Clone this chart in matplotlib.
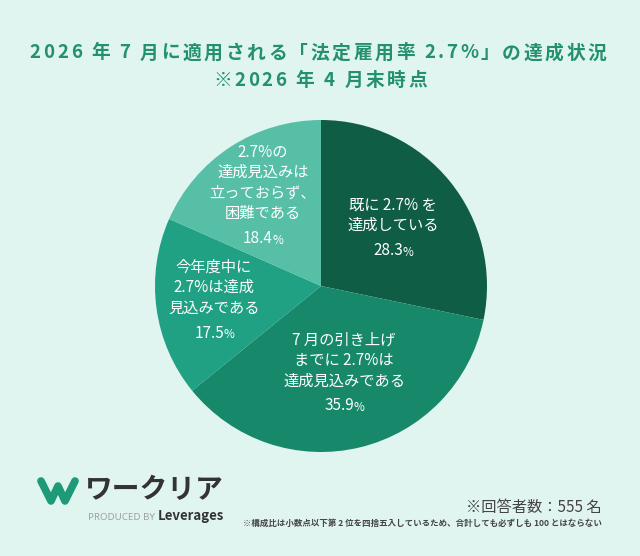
import matplotlib
matplotlib.use("Agg")
import matplotlib.pyplot as plt

plt.rcParams['font.family'] = ['Noto Sans CJK JP', 'DejaVu Sans']

# ---- data ----
categories = [
    "既に 2.7% を\n達成している",
    "7 月の引き上げ\nまでに 2.7%は\n達成見込みである",
    "今年度中に\n2.7%は達成\n見込みである",
    "2.7%の\n達成見込みは\n立っておらず、\n困難である",
]
values = [28.3, 35.9, 17.5, 18.4]
colors = ["#0e5d44", "#17896a", "#20a183", "#57bfa6"]
title_lines = ["2026 年 7 月に適用される「法定雇用率 2.7%」の達成状況", "※2026 年 4 月末時点"]
respondents = "※回答者数：555 名"
note = "※構成比は小数点以下第 2 位を四捨五入しているため、合計しても必ずしも 100 とはならない"

W, H = 640, 556
bg = "#e1f5f0"
fig = plt.figure(figsize=(W / 100, H / 100), dpi=100, facecolor=bg)
ax = fig.add_axes([0, 0, 1, 1])
ax.set_facecolor(bg)

def Y(ypix):
    return H - ypix

# pie
cx, cy, r = 321, 286, 166
ax.pie(values, colors=colors, startangle=90, counterclock=False,
       center=(cx, Y(cy)), radius=r, frame=True,
       wedgeprops=dict(linewidth=0))
ax.set_xlim(0, W)
ax.set_ylim(0, H)
ax.set_aspect('equal')
ax.axis('off')

renderer = fig.canvas.get_renderer()

def adv(ch, **kw):
    t1 = ax.text(0, 0, "x" + ch + "x", **kw)
    t2 = ax.text(0, 0, "xx", **kw)
    w = t1.get_window_extent(renderer).width - t2.get_window_extent(renderer).width
    t1.remove(); t2.remove()
    return w

def tracked(xc, y, s, track, **kw):
    ws = [adv(c, **kw) for c in s]
    total = sum(ws) + track * (len(s) - 1)
    x = xc - total / 2
    for c, w in zip(s, ws):
        if c != " ":
            ax.text(x + w / 2, y, c, ha="center", va="center", **kw)
        x += w + track

# labels: (x center, y of first line) in pixels
label_pos = [(393, 205), (344, 340), (214, 267), (263, 152)]
line_h = 20.5
for (lx, ly), cat, v in zip(label_pos, categories, values):
    lines = cat.split("\n")
    for i, ln in enumerate(lines):
        ax.text(lx, Y(ly + i * line_h), ln, color="white", fontsize=11,
                ha="center", va="center")
    py = ly + (len(lines) - 1) * line_h + 25
    t = ax.text(lx - 5, Y(py), f"{v:.1f}", color="white", fontsize=11,
                ha="center", va="center")
    ax.annotate("%", xy=(1, 0), xycoords=t, xytext=(-0.5, 0.3), textcoords="offset points",
                color="white", fontsize=8.5, ha="left", va="bottom")

# title
title_color = "#23906f"
tkw = dict(color=title_color, fontsize=13.5, fontweight="bold")
tracked(318, Y(53), title_lines[0], 2.6, **tkw)
tracked(320, Y(80), title_lines[1], 2.6, **tkw)

# footer: respondents and note
ax.text(602, Y(507), respondents, color="#444444", fontsize=11,
        ha="right", va="center")
ax.text(602, Y(523), note, color="#444444", fontsize=6.1, fontweight="bold",
        ha="right", va="center")

# logo
logo_green = "#1f9a78"
wx = [41, 51, 58, 65, 75]
wy = [481, 501, 486, 501, 481]
ax.plot(wx, [Y(v) for v in wy], color=logo_green, lw=5.5,
        solid_joinstyle="round", solid_capstyle="round")
ax.text(85, Y(490), "ワークリア", color="#333333", fontsize=20, fontweight="bold",
        ha="left", va="center")
ax.text(88, Y(518), "PRODUCED BY", color="#a0a0a0", fontsize=7,
        ha="left", va="center", family=["Noto Sans"], fontweight="light")
ax.text(158, Y(516), "Leverages", color="#333333", fontsize=9.5, fontweight="bold",
        ha="left", va="center", family=["Noto Sans CJK JP"])

fig.savefig("out.png", dpi=100, facecolor=bg)
